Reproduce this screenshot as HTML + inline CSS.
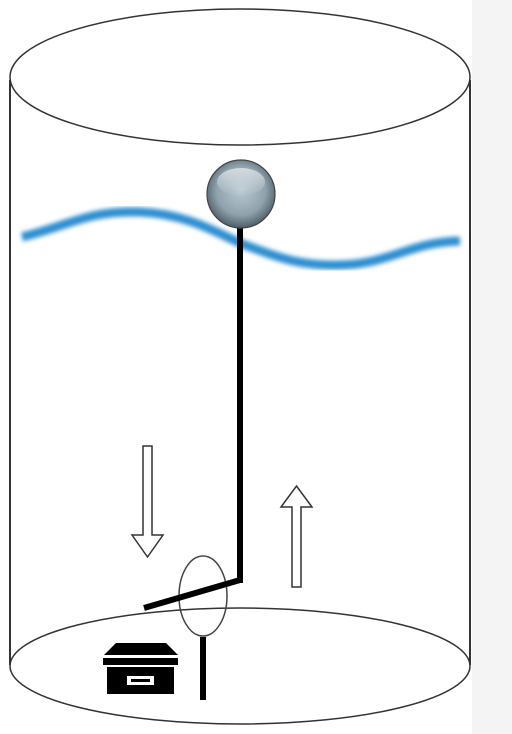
<!DOCTYPE html>
<html><head><meta charset="utf-8"><style>html,body{margin:0;padding:0;background:#fff}svg{display:block}</style></head>
<body>
<svg width="512" height="734" viewBox="0 0 512 734">
<defs>
<radialGradient id="ballg" cx="0.5" cy="0.45" r="0.6">
<stop offset="0" stop-color="#b8c8d0"/><stop offset="0.6" stop-color="#8fa2ad"/><stop offset="1" stop-color="#3e4d56"/>
</radialGradient>
<linearGradient id="hl" x1="0" y1="0" x2="0" y2="1"><stop offset="0" stop-color="#fff" stop-opacity="0.6"/><stop offset="1" stop-color="#fff" stop-opacity="0"/></linearGradient>
<filter id="blur"><feGaussianBlur stdDeviation="2"/></filter>
</defs>
<rect x="472" y="0" width="40" height="734" fill="#f4f4f4"/>
<g fill="none" stroke="#333" stroke-width="1.5">
<ellipse cx="240" cy="77" rx="230" ry="68" fill="#fff"/>
<line x1="10" y1="80" x2="10" y2="665" stroke-width="2"/>
<line x1="470" y1="80" x2="470" y2="665" stroke-width="2"/>
<ellipse cx="240" cy="666" rx="230" ry="58"/>
</g>
<path d="M22 237 C70 225 90 210 140 212 C190 214 220 235 245 245 C280 258 300 266 340 265 C390 264 410 242 460 241" fill="none" stroke="#2f8fd0" stroke-width="9" filter="url(#blur)"/>
<line x1="240" y1="225" x2="240" y2="583" stroke="#000" stroke-width="6"/>
<circle cx="241" cy="194" r="34" fill="url(#ballg)" stroke="#444" stroke-width="1.2"/>
<ellipse cx="241" cy="182" rx="24" ry="14" fill="url(#hl)"/>
<ellipse cx="203" cy="596" rx="24" ry="40" fill="none" stroke="#444" stroke-width="1.5"/>
<polyline points="240,583 240,580 144,608" fill="none" stroke="#000" stroke-width="6"/>
<line x1="203" y1="637" x2="203" y2="700" stroke="#000" stroke-width="6"/>
<g>
<polygon points="116,643 166,643 178,655 104,655" fill="#000"/>
<rect x="103" y="658" width="75" height="7" fill="#000"/>
<rect x="107" y="667" width="67" height="27" fill="#000"/>
<rect x="127" y="676" width="27" height="9" fill="#fff"/>
<rect x="131" y="679" width="19" height="3" fill="#000"/>
</g>
<polygon points="143,446 152,446 152,535 163,535 147.5,557 132,535 143,535" fill="#fff" stroke="#333" stroke-width="1.5"/>
<polygon points="292,587 301,587 301,507 312,507 296.5,486 281,507 292,507" fill="#fff" stroke="#333" stroke-width="1.5"/>
</svg>
</body></html>
